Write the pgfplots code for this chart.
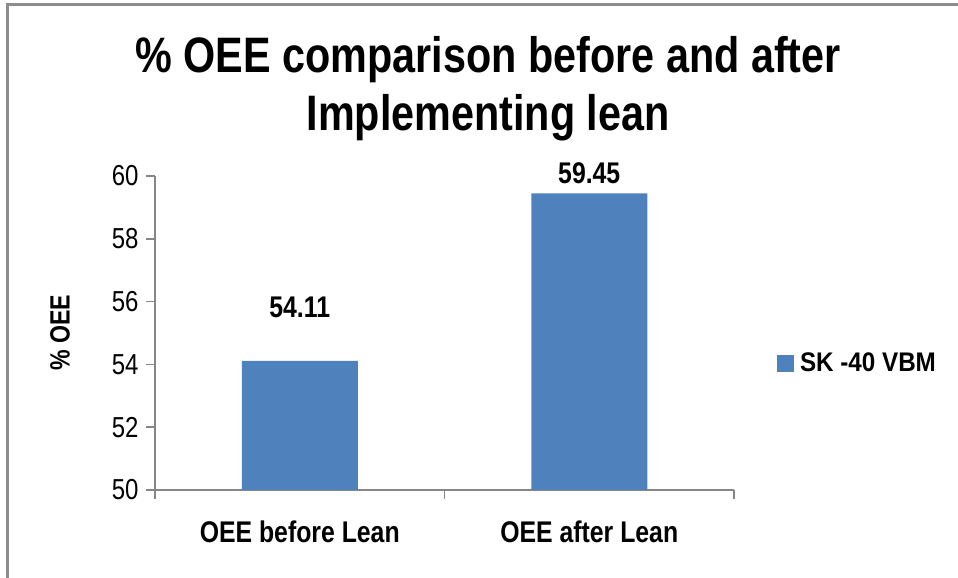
\documentclass[border=0pt]{standalone}
\usepackage{pgfplots}
\pgfplotsset{compat=1.18}
\usepackage{fontspec}
\setmainfont{Liberation Sans}
\newfontfamily\narrowfont[FakeStretch=0.83]{Liberation Sans}
\newfontfamily\legfont[FakeStretch=0.9]{Liberation Sans}
\definecolor{barblue}{HTML}{4F81BD}
\definecolor{axgray}{HTML}{868686}
\definecolor{framegray}{HTML}{8C8C8C}
\pgfplotstableread{
x y shift
0 54.11 54
1 59.45 20
}\oeedata
\begin{document}
\begin{tikzpicture}[x=1bp,y=1bp]
\useasboundingbox (0,0) rectangle (958,578);
\draw[line width=2.5bp, framegray] (7.5,-20) -- (7.5,573.5) -- (980,573.5);
\node[font=\narrowfont\bfseries\fontsize{50}{58}\selectfont, align=center] at (488,489) {\% OEE comparison before and after\\Implementing lean};
\begin{axis}[
  at={(155bp,88bp)}, anchor=south west,
  scale only axis, width=579bp, height=314bp,
  xmin=-0.5, xmax=1.5, ymin=50, ymax=60,
  ytick={50,52,54,56,58,60},
  xtick={-0.5,0.5,1.5}, xticklabels={},
  extra x ticks={0,1},
  extra x tick labels={OEE before Lean, OEE after Lean},
  extra x tick style={major tick length=0pt, xticklabel style={yshift=-27bp}},
  axis x line*=bottom, axis y line*=left,
  axis line style={draw=axgray, line width=1.5bp},
  tick style={draw=axgray, line width=1.5bp},
  major tick length=9bp,
  tick align=outside,
  yticklabel style={font=\narrowfont\fontsize{29}{34}\selectfont, xshift=-4bp},
  xticklabel style={font=\narrowfont\bfseries\fontsize{30}{34}\selectfont},
  /pgf/number format/assume math mode=true,
  ylabel={\% OEE},
  ylabel style={font=\narrowfont\bfseries\fontsize{28}{32}\selectfont, at={(axis description cs:-0.164,0.5)}, anchor=center},
  ybar, bar width=116bp,
  visualization depends on={\thisrow{shift} \as \myshift},
  nodes near coords={\pgfmathprintnumber[fixed,fixed zerofill,precision=2]{\pgfplotspointmeta}},
  nodes near coords style={font=\narrowfont\bfseries\fontsize{30}{34}\selectfont, anchor=center, yshift=\myshift bp},
  legend style={draw=none, at={(axis description cs:1.074,0.404)}, anchor=west, font=\legfont\bfseries\fontsize{27}{30}\selectfont, inner sep=0pt, nodes={inner xsep=6bp}},
  legend image code/.code={\fill[barblue] (0bp,-8.5bp) rectangle (17bp,8.5bp);},
]
\addplot[fill=barblue, draw=none] table[x=x, y=y] {\oeedata};
\legend{SK -40 VBM}
\end{axis}
\end{tikzpicture}
\end{document}
